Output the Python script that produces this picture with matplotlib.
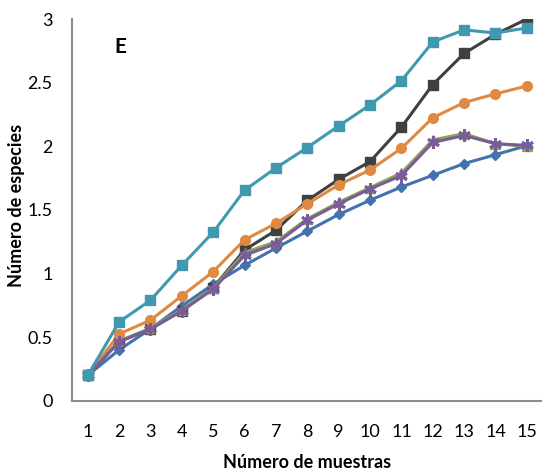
import numpy as np
import matplotlib
matplotlib.use("Agg")
import matplotlib.pyplot as plt

plt.rcParams['font.family'] = ['Lato', 'DejaVu Sans']

# datos
muestras = np.arange(1, 16)
azul = [0.20, 0.40, 0.565, 0.746, 0.916, 1.065, 1.20, 1.333, 1.464, 1.576, 1.68, 1.772, 1.864, 1.934, 2.005]
gris = [0.20, 0.465, 0.565, 0.707, 0.89, 1.185, 1.34, 1.575, 1.74, 1.88, 2.15, 2.485, 2.73, 2.88, 3.00]
naranja = [0.20, 0.525, 0.634, 0.825, 1.015, 1.265, 1.394, 1.548, 1.697, 1.814, 1.984, 2.224, 2.344, 2.412, 2.474]
verde = [0.20, 0.47, 0.57, 0.715, 0.885, 1.165, 1.25, 1.43, 1.56, 1.675, 1.79, 2.05, 2.10, 2.02, 2.00]
morado = [0.20, 0.465, 0.565, 0.707, 0.877, 1.143, 1.235, 1.42, 1.548, 1.665, 1.77, 2.03, 2.085, 2.02, 2.007]
turquesa = [0.20, 0.62, 0.79, 1.065, 1.325, 1.655, 1.83, 1.99, 2.16, 2.325, 2.515, 2.82, 2.915, 2.89, 2.93]

fig = plt.figure(figsize=(5.42, 4.76), dpi=100)
ax = fig.add_axes([0.133, 0.158, 0.868, 0.802])

lw = 2.2
ax.plot(muestras, azul, color='#4373AF', lw=lw, marker='D', ms=5)
ax.plot(muestras, gris, color='#404040', lw=lw, marker='s', ms=7)
ax.plot(muestras, naranja, color='#DF8A43', lw=lw, marker='o', ms=7)
ax.plot(muestras, verde, color='#8BAA4A', lw=lw, marker='^', ms=7)
ax.plot(muestras, morado, color='#7A5C9A', lw=lw, marker=(6, 2, 0), ms=9, mew=2)
ax.plot(muestras, turquesa, color='#4199B0', lw=lw, marker='s', ms=7)

ax.set_xlim(0.5, 15.5)
ax.set_ylim(0, 3)
ax.set_xticks(muestras)
ax.set_yticks([0, 0.5, 1, 1.5, 2, 2.5, 3])
ax.set_yticklabels(['0', '0.5', '1', '1.5', '2', '2.5', '3'])
ax.tick_params(axis='both', length=0, labelsize=13)
ax.tick_params(axis='x', pad=17)
ax.tick_params(axis='y', pad=14)

for s in ['top', 'right']:
    ax.spines[s].set_visible(False)
for s in ['left', 'bottom']:
    ax.spines[s].set_color('#8C8C8C')
    ax.spines[s].set_linewidth(1.5)

ax.set_xlabel('Número de muestras', fontsize=13, fontweight='bold', labelpad=10)
fig.text(17 / 542, 1 - 205 / 476, 'Número de especies', fontsize=13, fontweight='bold',
         rotation=90, ha='center', va='center')
ax.text(1.86, 2.73, 'E', fontsize=15, fontweight='bold')

fig.savefig('out.png', dpi=100)
